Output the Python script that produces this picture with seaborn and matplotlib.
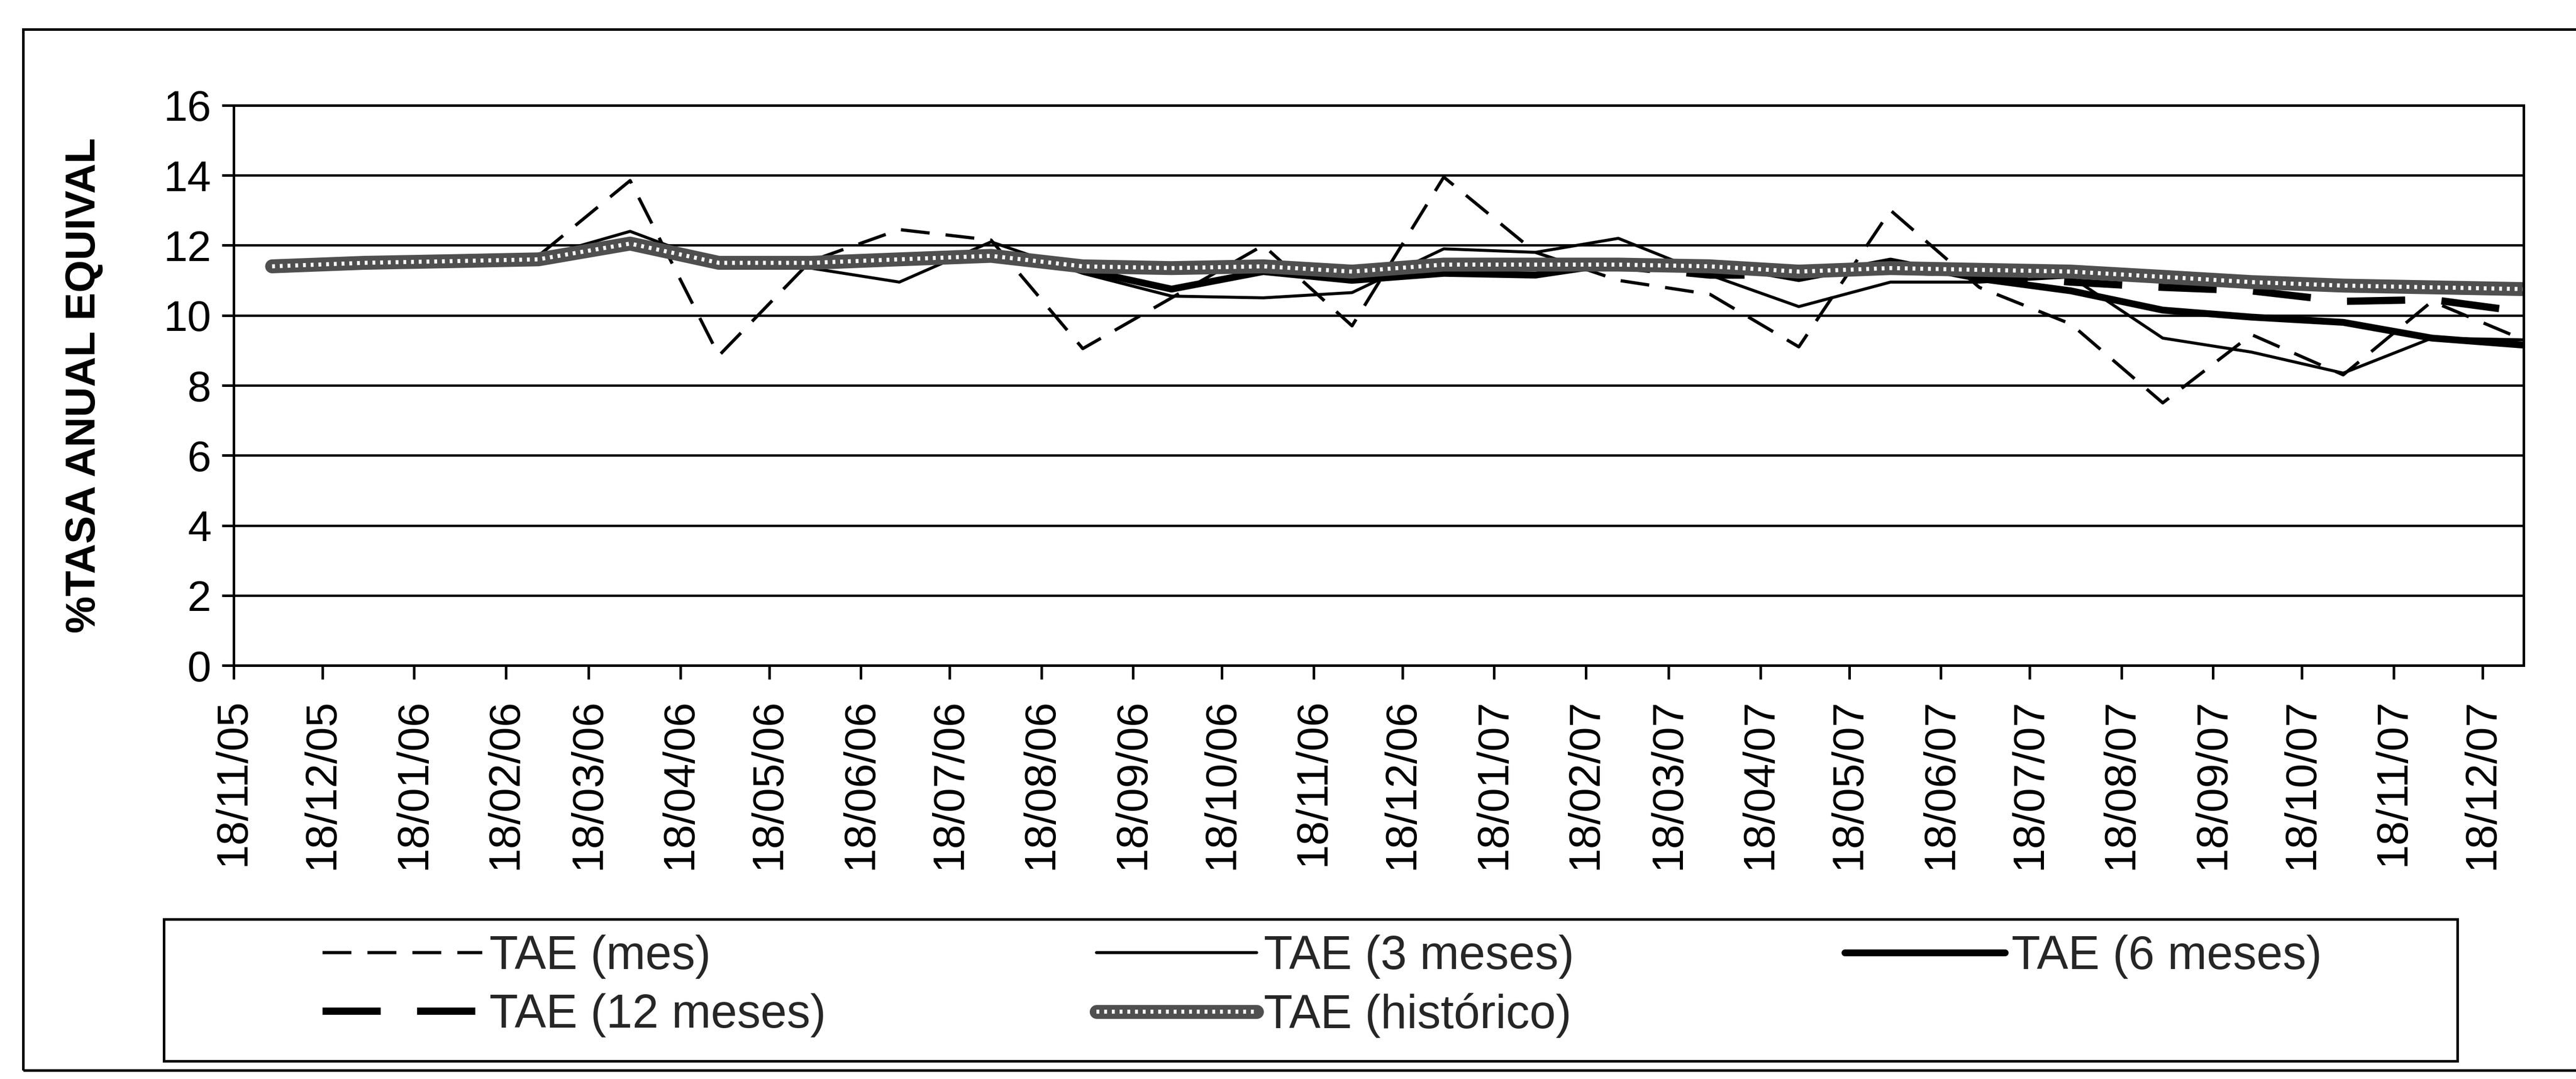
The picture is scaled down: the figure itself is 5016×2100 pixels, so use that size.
import numpy as np
import pandas as pd
import matplotlib
matplotlib.use("Agg")
import matplotlib.pyplot as plt
import seaborn as sns
from matplotlib.patches import Rectangle
from matplotlib.legend_handler import HandlerTuple

# monthly data points
fechas = ["2005-12-01", "2006-01-01", "2006-02-01", "2006-03-01", "2006-04-01",
          "2006-05-01", "2006-06-01", "2006-07-01", "2006-08-01", "2006-09-01",
          "2006-10-01", "2006-11-01", "2006-12-01", "2007-01-01", "2007-02-01",
          "2007-03-01", "2007-04-01", "2007-05-01", "2007-06-01", "2007-07-01",
          "2007-08-01", "2007-09-01", "2007-10-01", "2007-11-01", "2007-12-01",
          "2008-01-01"]
tae_mes = [11.4, 11.6, 11.6, 11.7, 13.85, 8.85, 11.55, 12.45, 12.15, 9.05,
           10.5, 12.0, 9.7, 13.95, 11.8, 11.0, 10.6, 9.1, 13.0, 10.8,
           9.75, 7.5, 9.45, 8.3, 10.4, 9.3]
tae_3m = [11.4, 11.5, 11.55, 11.65, 12.4, 11.45, 11.35, 10.95, 12.1, 11.2,
          10.55, 10.5, 10.65, 11.9, 11.8, 12.2, 11.15, 10.25, 10.95, 10.95,
          11.1, 9.35, 8.95, 8.35, 9.35, 9.3]
tae_6m = [11.4, 11.5, 11.55, 11.6, 12.0, 11.5, 11.5, 11.65, 11.75, 11.3,
          10.75, 11.25, 11.0, 11.2, 11.15, 11.5, 11.5, 11.05, 11.55, 11.05,
          10.7, 10.15, 9.95, 9.8, 9.35, 9.15]
tae_12m = [11.4, 11.5, 11.55, 11.6, 12.0, 11.5, 11.5, 11.6, 11.7, 11.4,
           11.35, 11.4, 11.25, 11.45, 11.45, 11.4, 11.15, 11.15, 11.3, 11.15,
           10.95, 10.8, 10.7, 10.4, 10.45, 10.1]
tae_hist = [11.4, 11.5, 11.55, 11.6, 12.05, 11.5, 11.5, 11.6, 11.7, 11.4,
            11.35, 11.4, 11.25, 11.45, 11.45, 11.45, 11.4, 11.25, 11.35, 11.3,
            11.25, 11.1, 10.95, 10.85, 10.8, 10.75]

tick_fechas = ["18/11/05", "18/12/05", "18/01/06", "18/02/06", "18/03/06",
               "18/04/06", "18/05/06", "18/06/06", "18/07/06", "18/08/06",
               "18/09/06", "18/10/06", "18/11/06", "18/12/06", "18/01/07",
               "18/02/07", "18/03/07", "18/04/07", "18/05/07", "18/06/07",
               "18/07/07", "18/08/07", "18/09/07", "18/10/07", "18/11/07",
               "18/12/07"]
y_ticks = [0, 2, 4, 6, 8, 10, 12, 14, 16]

df = pd.DataFrame({
    "fecha": pd.to_datetime(fechas),
    "mes": tae_mes,
    "m3": tae_3m,
    "m6": tae_6m,
    "m12": tae_12m,
    "hist": tae_hist,
})

sns.set_theme(style="ticks")
plt.rcParams["font.family"] = ["Liberation Sans", "DejaVu Sans"]

fig = plt.figure(figsize=(16.72, 7.0), dpi=300)
ax = fig.add_axes([0.0907, 0.3833, 0.889, 0.5191])

sns.lineplot(data=df, x="fecha", y="mes", ax=ax, color="black", lw=1.5,
             linestyle=(0, (9, 5)), legend=False)
h_mes = ax.lines[-1]
sns.lineplot(data=df, x="fecha", y="m3", ax=ax, color="black", lw=1.4,
             legend=False)
h_3 = ax.lines[-1]
sns.lineplot(data=df, x="fecha", y="m6", ax=ax, color="black", lw=3.2,
             legend=False)
h_6 = ax.lines[-1]
sns.lineplot(data=df, x="fecha", y="m12", ax=ax, color="black", lw=3.4,
             linestyle=(0, (8, 5)), legend=False)
h_12 = ax.lines[-1]
# historico: thick grey line with a white dotted core -> checkered look
sns.lineplot(data=df, x="fecha", y="hist", ax=ax, color="#4f4f4f", lw=6.5,
             legend=False)
h_hist = ax.lines[-1]
sns.lineplot(data=df, x="fecha", y="hist", ax=ax, color="white", lw=1.9,
             linestyle=(0, (0.7, 1.2)), legend=False)
h_hist_dots = ax.lines[-1]

# axes
ax.set_ylim(0, 16)
ax.set_yticks(y_ticks)
ax.set_xlim(pd.Timestamp("2005-11-18"), pd.Timestamp("2008-01-01"))
ax.set_xticks(pd.to_datetime(tick_fechas, format="%d/%m/%y"))
ax.set_xticklabels(tick_fechas, rotation=90)
ax.tick_params(axis="x", direction="out", length=6.5, width=1.2, pad=9,
               labelsize=20.5, colors="black")
ax.tick_params(axis="y", direction="out", length=5.5, width=1.2, pad=5,
               labelsize=20, colors="black")
ax.yaxis.grid(True, color="black", lw=1.1)
ax.xaxis.grid(False)
ax.set_axisbelow(True)
for sp in ax.spines.values():
    sp.set_visible(True)
    sp.set_color("black")
    sp.set_linewidth(1.2)
ax.set_xlabel("")
ax.set_ylabel("%TASA ANUAL EQUIVAL", fontsize=19.5, fontweight="bold",
              color="black", labelpad=28)

# legend
handles = [h_mes, h_12, h_3, (h_hist, h_hist_dots), h_6]
labels = ["TAE (mes)", "TAE (12 meses)", "TAE (3 meses)", "TAE (histórico)",
          "TAE (6 meses)"]
fig.legend(handles, labels, ncol=3, loc="center left",
           bbox_to_anchor=(0.116, 0.0858), frameon=False, fontsize=22,
           handlelength=3.4, handletextpad=0.15, columnspacing=5.75,
           labelspacing=0.3, borderpad=0,
           handler_map={tuple: HandlerTuple(ndivide=1, pad=0)})
fig.add_artist(Rectangle((0.0636, 0.0167), 0.954 - 0.0636, 0.148 - 0.0167,
                         transform=fig.transFigure, fill=False, lw=1.2,
                         ec="black"))
# outer chart frame (right side falls outside the scan)
fig.add_artist(Rectangle((0.009, 0.008), 1.2, 0.965,
                         transform=fig.transFigure, fill=False, lw=1.2,
                         ec="black", clip_on=False))

fig.savefig("out.png", dpi=300, facecolor="white")
